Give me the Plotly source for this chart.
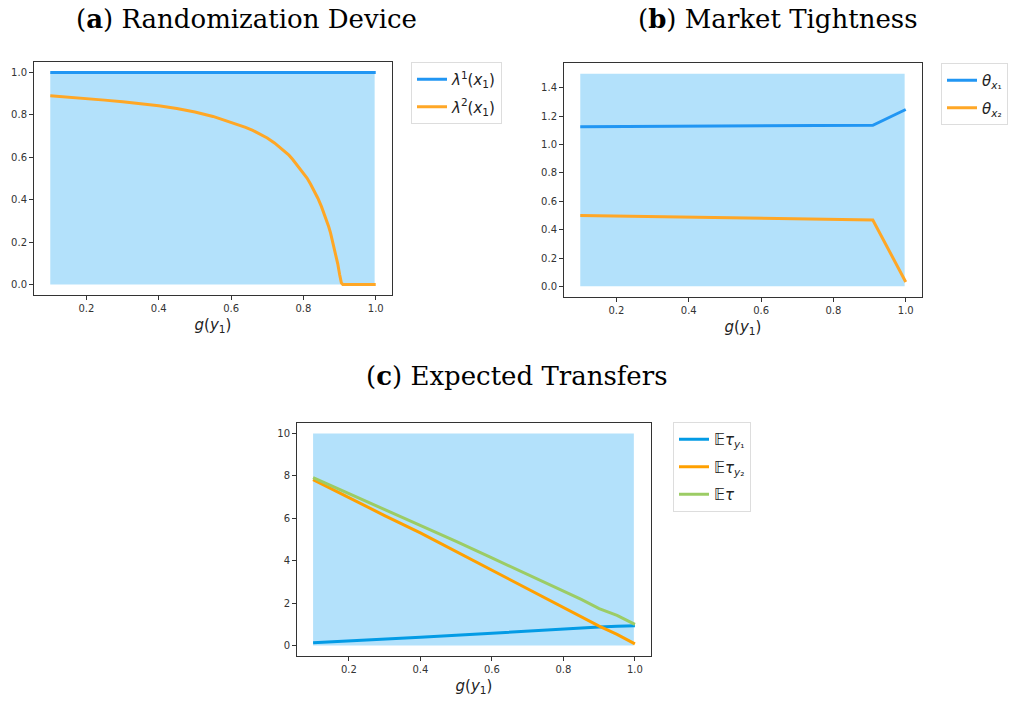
import plotly.graph_objects as go

# ---------------- data ----------------
# shaded region (x extent and upper bound of each panel)
fill_x = [0.1, 0.997]
fill_top_a = [1.0, 1.0]
fill_top_b = [1.5, 1.5]
fill_top_c = [10.0, 10.0]

# (a) Randomization device
a_x1 = [0.1, 1.0]
a_lambda1 = [1.0, 1.0]
a_x2 = [0.10, 0.15, 0.20, 0.25, 0.30, 0.35, 0.40, 0.45, 0.50, 0.55, 0.60, 0.62, 0.64,
        0.66, 0.68, 0.70, 0.72, 0.74, 0.76, 0.77, 0.78, 0.79, 0.80, 0.81, 0.82, 0.83,
        0.84, 0.85, 0.86, 0.87, 0.875, 0.88, 0.885, 0.89, 0.895, 0.90, 0.905, 0.909,
        0.95, 1.0]
a_lambda2 = [0.891, 0.885, 0.877, 0.870, 0.862, 0.853, 0.843, 0.830, 0.814, 0.793, 0.766, 0.754, 0.741,
             0.727, 0.710, 0.691, 0.668, 0.641, 0.610, 0.591, 0.570, 0.549, 0.527, 0.502, 0.473, 0.442,
             0.407, 0.367, 0.322, 0.272, 0.243, 0.210, 0.177, 0.141, 0.097, 0.048, 0.008, 0.0,
             0.0, 0.0]

# (b) Market tightness
b_x = [0.1, 0.5, 0.909, 1.0]
b_theta1 = [1.126, 1.131, 1.136, 1.247]
b_theta2 = [0.499, 0.484, 0.468, 0.031]

# (c) Expected transfers
c_x = [0.1, 0.2, 0.3, 0.4, 0.5, 0.6, 0.7, 0.8, 0.85, 0.9, 0.95, 1.0]
c_tau_y1 = [0.12, 0.20, 0.29, 0.38, 0.48, 0.58, 0.69, 0.78, 0.83, 0.87, 0.90, 0.93]
c_tau_y2 = [7.83, 6.97, 6.13, 5.31, 4.43, 3.55, 2.67, 1.80, 1.36, 0.91, 0.52, 0.07]
c_tau = [7.92, 7.17, 6.43, 5.68, 4.91, 4.13, 3.35, 2.57, 2.17, 1.74, 1.42, 0.99]

titles = ["(<b>a</b>) Randomization Device", "(<b>b</b>) Market Tightness",
          "(<b>c</b>) Expected Transfers"]
xlabel = "<i>g</i>(<i>y</i><sub>1</sub>)"
xticks = [0.2, 0.4, 0.6, 0.8, 1.0]
yticks_a = [0.0, 0.2, 0.4, 0.6, 0.8, 1.0]
yticks_b = [0.0, 0.2, 0.4, 0.6, 0.8, 1.0, 1.2, 1.4]
yticks_c = [0, 2, 4, 6, 8, 10]

# ---------------- style ----------------
W, H = 1012, 702
OFF = 0  # page body margin removed by post_script below
FILL = "#b3e1fb"
BLUE = "#2196f3"
ORANGE = "#ffa726"
BLUE_C = "#039be5"
ORANGE_C = "#ffa000"
GREEN_C = "#9ccc65"
LW = 3

def fx(p):
    return (p - OFF) / W

def fy(p):
    return 1 - (p - OFF) / H

def px_dom_x(a, b):
    return [fx(a), fx(b)]

def px_dom_y(top, bottom):
    return [fy(bottom), fy(top)]

fig = go.Figure()

def add_fill(xa, ya, top):
    fig.add_trace(go.Scatter(x=fill_x, y=top, xaxis=xa, yaxis=ya, mode="lines",
                             line=dict(width=0), fill="tozeroy", fillcolor=FILL,
                             showlegend=False, hoverinfo="skip"))

# panel a
add_fill("x", "y", fill_top_a)
fig.add_trace(go.Scatter(x=a_x1, y=a_lambda1, xaxis="x", yaxis="y", mode="lines",
                         line=dict(color=BLUE, width=LW), legend="legend", legendgroup="a1",
                         name="<i>λ</i><sup>1</sup>(<i>x</i><sub>1</sub>)"))
fig.add_trace(go.Scatter(x=a_x2, y=a_lambda2, xaxis="x", yaxis="y", mode="lines",
                         line=dict(color=ORANGE, width=LW), legend="legend", legendgroup="a2",
                         name="<i>λ</i><sup>2</sup>(<i>x</i><sub>1</sub>)"))
# panel b
add_fill("x2", "y2", fill_top_b)
fig.add_trace(go.Scatter(x=b_x, y=b_theta1, xaxis="x2", yaxis="y2", mode="lines",
                         line=dict(color=BLUE, width=LW), legend="legend2", legendgroup="b1",
                         name="<i>θ</i><sub><i>x</i>₁</sub>"))
fig.add_trace(go.Scatter(x=b_x, y=b_theta2, xaxis="x2", yaxis="y2", mode="lines",
                         line=dict(color=ORANGE, width=LW), legend="legend2", legendgroup="b2",
                         name="<i>θ</i><sub><i>x</i>₂</sub>"))
# panel c
add_fill("x3", "y3", fill_top_c)
fig.add_trace(go.Scatter(x=c_x, y=c_tau_y1, xaxis="x3", yaxis="y3", mode="lines",
                         line=dict(color=BLUE_C, width=LW), legend="legend3", legendgroup="c1",
                         name="𝔼<i>τ</i><sub><i>y</i>₁</sub>"))
fig.add_trace(go.Scatter(x=c_x, y=c_tau_y2, xaxis="x3", yaxis="y3", mode="lines",
                         line=dict(color=ORANGE_C, width=LW), legend="legend3", legendgroup="c2",
                         name="𝔼<i>τ</i><sub><i>y</i>₂</sub>"))
fig.add_trace(go.Scatter(x=c_x, y=c_tau, xaxis="x3", yaxis="y3", mode="lines",
                         line=dict(color=GREEN_C, width=LW), legend="legend3", legendgroup="c3",
                         name="𝔼<i>τ</i>"))

tickfont = dict(family="DejaVu Sans", size=10, color="#333333")
axis_common = dict(showline=True, mirror=True, linecolor="#333333", linewidth=1,
                   ticks="outside", ticklen=4, tickcolor="#333333", tickwidth=1,
                   showgrid=False, zeroline=False, tickfont=tickfont, automargin=False)

def xaxis(dom, anchor):
    return dict(domain=dom, anchor=anchor, range=[0.055, 1.045], tickvals=xticks,
                tickformat=".1f",
                title=dict(text=xlabel, font=dict(family="DejaVu Sans", size=15, color="#222"),
                           standoff=6),
                **axis_common)

def yaxis(dom, anchor, rng, ticks, fmt):
    return dict(domain=dom, anchor=anchor, range=rng, tickvals=ticks, tickformat=fmt,
                **axis_common)

legend_common = dict(font=dict(family="DejaVu Sans", size=15, color="#222"),
                     bgcolor="white", bordercolor="#dddddd", borderwidth=1,
                     xanchor="left", yanchor="top", traceorder="grouped",
                     tracegroupgap=5, itemwidth=30)

fig.update_layout(
    width=W, height=H, margin=dict(l=0, r=0, t=0, b=0, autoexpand=False),
    paper_bgcolor="white", plot_bgcolor="white",
    xaxis=xaxis(px_dom_x(34, 392), "y"),
    yaxis=yaxis(px_dom_y(62, 295), "x", [-0.05, 1.05], yticks_a, ".1f"),
    xaxis2=xaxis(px_dom_x(564, 922), "y2"),
    yaxis2=yaxis(px_dom_y(63, 297), "x2", [-0.075, 1.575], yticks_b, ".1f"),
    xaxis3=xaxis(px_dom_x(297, 651), "y3"),
    yaxis3=yaxis(px_dom_y(423, 656), "x3", [-0.5, 10.5], yticks_c, "d"),
    legend=dict(x=fx(411), y=fy(62), **legend_common),
    legend2=dict(x=fx(941), y=fy(63), **legend_common),
    legend3=dict(x=fx(673), y=fy(422), **legend_common),
    showlegend=True,
)

title_font = dict(family="DejaVu Serif", size=26, color="black")
for text, cx, cy in [(titles[0], 246, 19), (titles[1], 777, 19), (titles[2], 517, 376)]:
    fig.add_annotation(text=text, x=fx(cx), y=fy(cy), xref="paper", yref="paper",
                       showarrow=False, xanchor="center", yanchor="middle", font=title_font)

fig.write_html("out.html", config={"displayModeBar": False},
               post_script="document.body.style.margin='0px';document.body.style.overflow='hidden';")
